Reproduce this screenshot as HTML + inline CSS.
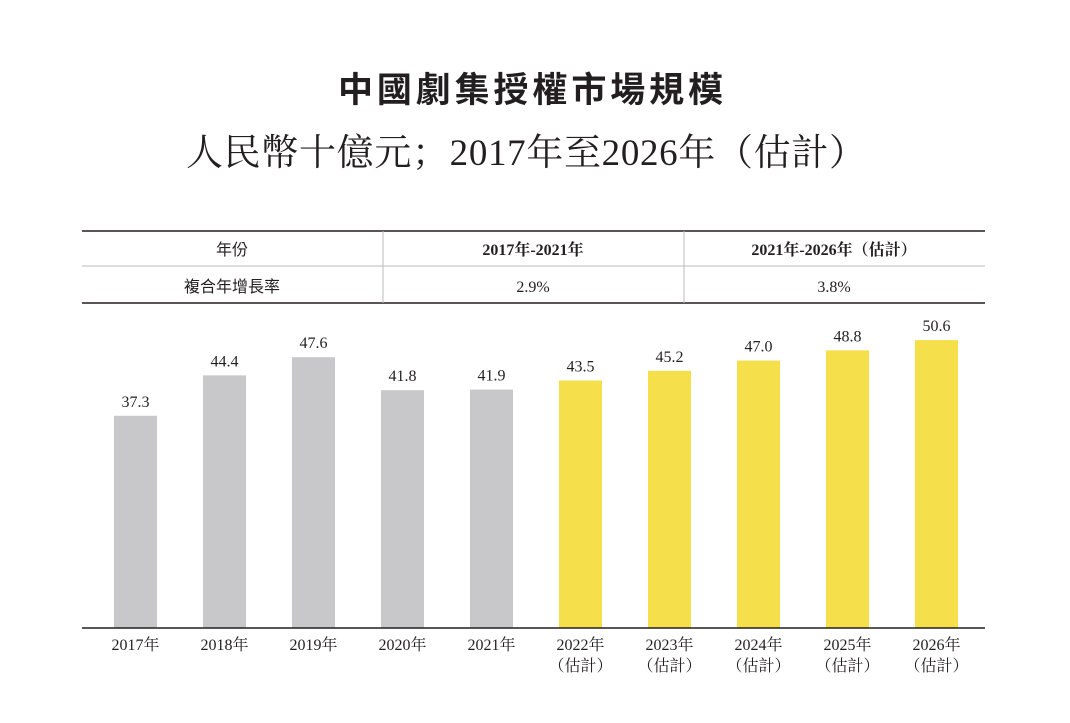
<!DOCTYPE html>
<html><head><meta charset="utf-8"><style>
body{margin:0;background:#fff;width:1070px;height:718px;overflow:hidden}
svg text{font-family:"Liberation Serif","Noto Serif CJK SC","Noto Sans CJK TC",serif;fill:#231f20}
.cjk{font-family:"Liberation Sans","Noto Sans CJK TC",sans-serif}
</style></head><body>
<svg id="chart" width="1070" height="718">
<text class="cjk" x="532" y="102" text-anchor="middle" font-size="35" font-weight="bold" letter-spacing="3" textLength="388">中國劇集授權市場規模</text>
<text x="186" y="165" font-size="37" textLength="680" lengthAdjust="spacing">人民幣十億元；2017年至2026年（估計）</text>
<g>
<line x1="82" x2="985" y1="231" y2="231" stroke="#231f20" stroke-width="1.5"/>
<line x1="82" x2="985" y1="266" y2="266" stroke="#bbb" stroke-width="1"/>
<line x1="82" x2="985" y1="303" y2="303" stroke="#231f20" stroke-width="1.5"/>
<line x1="383" x2="383" y1="231" y2="303" stroke="#bbb"/>
<line x1="684" x2="684" y1="231" y2="303" stroke="#bbb"/>
<text class="cjk" x="232" y="255" text-anchor="middle" font-size="16">年份</text>
<text class="cjk" x="232" y="292" text-anchor="middle" font-size="16">複合年增長率</text>
<text x="533" y="255" text-anchor="middle" font-size="16" font-weight="bold">2017年-2021年</text>
<text x="834" y="255" text-anchor="middle" font-size="16" font-weight="bold">2021年-2026年（估計）</text>
<text x="533" y="292" text-anchor="middle" font-size="16">2.9%</text>
<text x="834" y="292" text-anchor="middle" font-size="16">3.8%</text>
</g>
<g id="bars"></g>
<line x1="82" x2="985" y1="628" y2="628" stroke="#231f20" stroke-width="1.5"/>
</svg>
<script>
const categories=["2017年","2018年","2019年","2020年","2021年","2022年","2023年","2024年","2025年","2026年"];
const values=[37.3,44.4,47.6,41.8,41.9,43.5,45.2,47.0,48.8,50.6];
const estimated=[false,false,false,false,false,true,true,true,true,true];
const ns="http://www.w3.org/2000/svg";
const g=document.getElementById('bars');
const y=v=>628-v*5.69;
const x=i=>135.5+i*89;
function mk(t,a){const e=document.createElementNS(ns,t);for(const k in a)e.setAttribute(k,a[k]);g.appendChild(e);return e;}
values.forEach((v,i)=>{
 const r=mk('rect',{x:x(i)-21.5,y:y(v),width:43,height:628-y(v),fill:estimated[i]?'#f5e04c':'#c8c8ca'});
 
 
 const t=mk('text',{x:x(i),y:y(v)-9,'text-anchor':'middle','font-size':'16'});t.textContent=v.toFixed(1);
 
 
 const c=mk('text',{x:x(i),y:650,'text-anchor':'middle','font-size':'16'});c.textContent=categories[i];
 
 
 if(estimated[i]){const e=mk('text',{x:x(i),y:671,'text-anchor':'middle','font-size':'16'});e.textContent='（估計）';
 
 }
});
</script>
</body></html>
